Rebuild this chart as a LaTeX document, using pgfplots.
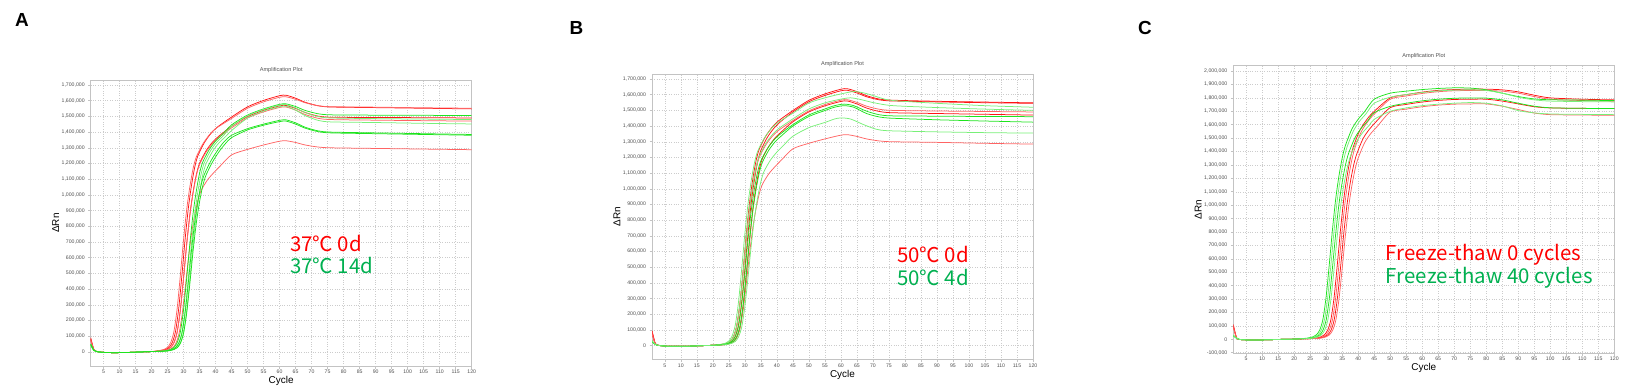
\documentclass[border=0pt]{standalone}
\usepackage{pgfplots}
\pgfplotsset{compat=1.18}
\usepackage{fontspec}
\setmainfont{Liberation Sans}
\newfontfamily\cjk{Noto Sans CJK SC}
\definecolor{rA}{RGB}{255,20,20}
\definecolor{rB}{RGB}{255,100,100}
\definecolor{gA}{RGB}{30,228,30}
\definecolor{gB}{RGB}{120,240,120}
\definecolor{legR}{RGB}{255,0,0}
\definecolor{legG}{RGB}{0,176,80}
\definecolor{axgray}{RGB}{195,195,195}
\definecolor{txtgray}{RGB}{80,80,80}
\pgfplotsset{
  qpcr/.style={
    scale only axis, width=381bp, height=286bp,
    xmin=1, xmax=120,
    xtick={5,10,...,120},
    grid=major,
    major grid style={dotted, gray!40, line width=0.45bp},
    axis line style={axgray, line width=0.8bp},
    tick style={axgray, line width=0.5bp},
    tick align=outside, tickpos=left, major tick length=2.5bp,
    ticklabel style={font=\fontsize{5.2}{6}\selectfont, text=txtgray},
    xticklabel style={yshift=2bp},
    /pgf/number format/assume math mode=true,
    xlabel={Cycle}, ylabel={ΔRn},
    label style={font=\fontsize{6.3}{7}\selectfont, text=txtgray},
    every axis x label/.style={at={(axis description cs:0.5,-0.052)},anchor=center},
    every axis y label/.style={at={(axis description cs:-0.092,0.5)},rotate=90,anchor=center},
    title={Amplification Plot},
    title style={font=\fontsize{5.6}{6.5}\selectfont, text=txtgray, at={(axis description cs:0.5,1)}, anchor=base, inner sep=0pt, yshift=2.5bp},
    every axis plot/.append style={line width=0.75bp, no marks, smooth, tension=0.45},
  },
  abticks/.style={
    ymin=-90, ymax=1732,
    ytick={0,100,...,1700},
    yticklabels={0,{100,000},{200,000},{300,000},{400,000},{500,000},{600,000},{700,000},{800,000},{900,000},{1,000,000},{1,100,000},{1,200,000},{1,300,000},{1,400,000},{1,500,000},{1,600,000},{1,700,000}},
  },
}
\begin{document}
\begin{tikzpicture}
\useasboundingbox (0,0) rectangle (1633bp,391bp);
% ---------------- Panel A ----------------
\begin{axis}[qpcr, abticks, at={(90.7bp,25bp)}, anchor=south west]
\addplot[rA] coordinates {(1,90)(2,15)(3,2)(5,-3)(8,-5)(12,-4)(16,-1)(20,2)(22.5,7)(24.5,16)(25.5,29)(26.5,60)(27.5,131)(28.5,278)(29.5,491)(30.5,719)(31.5,916)(32.5,1063)(33.5,1177)(34.5,1251)(36.5,1333)(38.5,1390)(40.5,1431)(45,1496)(50,1561)(55,1602)(60,1632)(62,1635)(65,1616)(68,1590)(72,1568)(76,1560)(90,1556)(105,1552)(120,1548)};
\addplot[rB] coordinates {(1,85)(2,14)(3,2)(5,-3)(8,-5)(12,-4)(16,-1)(20,2)(22,7)(24,16)(25,29)(26,60)(27,130)(28,276)(29,488)(30,715)(31,910)(32,1056)(33,1170)(34,1243)(36,1324)(38,1381)(40,1422)(45,1487)(50,1552)(55,1593)(60,1622)(62,1625)(65,1609)(68,1587)(72,1568)(76,1562)(90,1559)(105,1555)(120,1552)};
\addplot[rA] coordinates {(1,80)(2,13)(3,2)(5,-3)(8,-5)(12,-4)(16,-1)(20,2)(23,6)(25,16)(26,28)(27,58)(28,126)(29,267)(30,471)(31,691)(32,879)(33,1021)(34,1130)(35,1201)(37,1280)(39,1335)(41,1374)(45,1437)(50,1499)(55,1539)(60,1567)(62,1570)(65,1551)(68,1525)(72,1502)(76,1495)(90,1493)(105,1492)(120,1490)};
\addplot[rB] coordinates {(1,75)(2,12)(3,2)(5,-3)(8,-5)(12,-4)(16,-1)(20,2)(23,6)(25,16)(26,28)(27,58)(28,125)(29,265)(30,468)(31,686)(32,874)(33,1014)(34,1123)(35,1193)(37,1271)(39,1326)(41,1365)(45,1427)(50,1490)(55,1529)(60,1557)(62,1560)(65,1540)(68,1512)(72,1488)(76,1480)(90,1476)(105,1473)(120,1470)};
\addplot[rB] coordinates {(1,70)(2,12)(3,2)(5,-3)(8,-5)(12,-4)(16,-1)(20,2)(23.5,5)(25.5,13)(26.5,24)(27.5,50)(28.5,108)(29.5,229)(30.5,404)(31.5,592)(32.5,753)(33.5,874)(34.5,968)(35.5,1029)(37.5,1096)(39.5,1143)(41.5,1185)(45,1255)(50,1290)(55,1318)(60,1342)(62,1345)(65,1334)(68,1318)(72,1305)(76,1300)(90,1296)(105,1292)(120,1288)};
\addplot[gA] coordinates {(1,50)(2,10)(3,1)(5,-3)(8,-5)(12,-4)(16,-1)(20,2)(24,6)(26,16)(27,28)(28,58)(29,126)(30,269)(31,474)(32,695)(33,885)(34,1027)(35,1138)(36,1209)(38,1288)(40,1343)(42,1383)(45,1446)(50,1509)(55,1548)(60,1577)(62,1580)(65,1563)(68,1538)(72,1517)(76,1510)(90,1508)(105,1507)(120,1505)};
\addplot[gB] coordinates {(1,45)(2,9)(3,1)(5,-3)(8,-5)(12,-4)(16,-1)(20,2)(24.5,6)(26.5,16)(27.5,28)(28.5,58)(29.5,126)(30.5,268)(31.5,473)(32.5,693)(33.5,882)(34.5,1024)(35.5,1134)(36.5,1205)(38.5,1284)(40.5,1339)(42.5,1378)(45,1436)(50,1504)(55,1544)(60,1572)(62,1575)(65,1554)(68,1524)(72,1499)(76,1490)(90,1486)(105,1483)(120,1480)};
\addplot[gB] coordinates {(1,40)(2,8)(3,1)(5,-3)(8,-5)(12,-4)(16,-1)(20,2)(25,6)(27,16)(28,28)(29,58)(30,125)(31,266)(32,470)(33,689)(34,876)(35,1017)(36,1127)(37,1197)(39,1275)(41,1330)(43,1369)(45,1410)(50,1490)(55,1534)(60,1562)(62,1565)(65,1540)(68,1505)(72,1475)(76,1465)(90,1461)(105,1456)(120,1452)};
\addplot[gA] coordinates {(1,50)(2,10)(3,1)(5,-3)(8,-5)(12,-4)(16,-1)(20,2)(24.5,6)(26.5,15)(27.5,27)(28.5,55)(29.5,118)(30.5,251)(31.5,443)(32.5,650)(33.5,828)(34.5,961)(35.5,1064)(36.5,1131)(38.5,1215)(40.5,1280)(42.5,1335)(45,1380)(50,1422)(55,1451)(60,1475)(62,1478)(65,1459)(68,1431)(72,1408)(76,1400)(90,1395)(105,1390)(120,1385)};
\addplot[gA] coordinates {(1,45)(2,9)(3,1)(5,-3)(8,-5)(12,-4)(16,-1)(20,2)(25,6)(27,15)(28,26)(29,54)(30,118)(31,250)(32,441)(33,647)(34,823)(35,956)(36,1058)(37,1125)(39,1208)(41,1273)(43,1325)(45,1365)(50,1414)(55,1444)(60,1467)(62,1470)(65,1451)(68,1425)(72,1403)(76,1395)(90,1390)(105,1385)(120,1380)};
\end{axis}
% ---------------- Panel B ----------------
\begin{axis}[qpcr, abticks, height=285.7bp, at={(652bp,31.3bp)}, anchor=south west]
\addplot[rA] coordinates {(1,95)(2,15)(3,2)(5,-3)(8,-5)(12,-4)(16,-1)(20,2)(22.5,7)(24.5,16)(25.5,29)(26.5,61)(27.5,131)(28.5,278)(29.5,491)(30.5,721)(31.5,917)(32.5,1065)(33.5,1179)(34.5,1253)(36.5,1335)(38.5,1392)(40.5,1433)(45,1499)(50,1564)(55,1605)(60,1635)(62,1638)(65,1620)(68,1594)(72,1572)(76,1565)(90,1558)(105,1553)(120,1548)};
\addplot[rA] coordinates {(1,90)(2,14)(3,2)(5,-3)(8,-5)(12,-4)(16,-1)(20,2)(23,7)(25,16)(26,29)(27,60)(28,130)(29,277)(30,488)(31,716)(32,912)(33,1058)(34,1172)(35,1245)(37,1327)(39,1384)(41,1425)(45,1490)(50,1555)(55,1595)(60,1625)(62,1628)(65,1611)(68,1587)(72,1567)(76,1560)(90,1554)(105,1549)(120,1545)};
\addplot[rB] coordinates {(1,85)(2,13)(3,2)(5,-3)(8,-5)(12,-4)(16,-1)(20,2)(22.5,6)(24.5,16)(25.5,28)(26.5,58)(27.5,125)(28.5,267)(29.5,470)(30.5,690)(31.5,878)(32.5,1019)(33.5,1129)(34.5,1200)(36.5,1278)(38.5,1333)(40.5,1372)(45,1435)(50,1497)(55,1537)(60,1565)(62,1568)(65,1551)(68,1527)(72,1507)(76,1500)(90,1496)(105,1493)(120,1490)};
\addplot[rA] coordinates {(1,80)(2,12)(3,2)(5,-3)(8,-5)(12,-4)(16,-1)(20,2)(23.5,6)(25.5,16)(26.5,28)(27.5,58)(28.5,125)(29.5,265)(30.5,468)(31.5,686)(32.5,874)(33.5,1014)(34.5,1123)(35.5,1193)(37.5,1271)(39.5,1326)(41.5,1365)(45,1427)(50,1490)(55,1529)(60,1557)(62,1560)(65,1541)(68,1515)(72,1493)(76,1485)(90,1480)(105,1475)(120,1470)};
\addplot[rB] coordinates {(1,75)(2,12)(3,2)(5,-3)(8,-5)(12,-4)(16,-1)(20,2)(23.5,5)(25.5,13)(26.5,24)(27.5,50)(28.5,108)(29.5,229)(30.5,404)(31.5,592)(32.5,753)(33.5,874)(34.5,968)(35.5,1029)(37.5,1096)(39.5,1143)(41.5,1185)(45,1255)(50,1290)(55,1318)(60,1342)(62,1345)(65,1334)(68,1318)(72,1305)(76,1300)(90,1296)(105,1290)(120,1285)};
\addplot[gB] coordinates {(1,30)(2,8)(3,1)(5,-3)(8,-5)(12,-4)(16,-1)(20,2)(22,6)(24,16)(25,29)(26,60)(27,130)(28,275)(29,486)(30,713)(31,907)(32,1053)(33,1166)(34,1239)(36,1320)(38,1377)(40,1418)(45,1482)(50,1547)(55,1580)(60,1605)(64,1620)(67,1612)(70,1595)(74,1570)(78,1560)(90,1545)(105,1530)(120,1520)};
\addplot[gB] coordinates {(1,28)(2,8)(3,1)(5,-3)(8,-5)(12,-4)(16,-1)(20,2)(22.5,6)(24.5,16)(25.5,28)(26.5,58)(27.5,126)(28.5,269)(29.5,474)(30.5,695)(31.5,885)(32.5,1027)(33.5,1138)(34.5,1209)(36.5,1288)(38.5,1343)(40.5,1383)(45,1446)(50,1509)(55,1548)(60,1572)(63,1580)(66,1570)(70,1550)(74,1535)(78,1528)(90,1518)(105,1508)(120,1500)};
\addplot[gA] coordinates {(1,30)(2,8)(3,1)(5,-3)(8,-5)(12,-4)(16,-1)(20,2)(23,6)(25,15)(26,28)(27,57)(28,123)(29,262)(30,462)(31,678)(32,862)(33,1001)(34,1109)(35,1178)(37,1255)(39,1309)(41,1348)(45,1409)(50,1471)(55,1509)(58,1530)(61,1540)(64,1530)(68,1495)(72,1472)(76,1465)(90,1463)(105,1461)(120,1460)};
\addplot[gA] coordinates {(1,25)(2,7)(3,1)(5,-3)(8,-5)(12,-4)(16,-1)(20,2)(23.5,6)(25.5,15)(26.5,28)(27.5,57)(28.5,122)(29.5,260)(30.5,459)(31.5,673)(32.5,857)(33.5,995)(34.5,1102)(35.5,1170)(37.5,1247)(39.5,1301)(41.5,1339)(45,1400)(50,1461)(55,1499)(58,1520)(61,1530)(64,1520)(68,1480)(72,1458)(76,1450)(90,1440)(105,1432)(120,1425)};
\addplot[gB] coordinates {(1,30)(2,8)(3,1)(5,-3)(8,-5)(12,-4)(16,-1)(20,2)(24,6)(26,15)(27,26)(28,54)(29,116)(30,247)(31,436)(32,639)(33,813)(34,944)(35,1045)(36,1111)(38,1183)(40,1234)(42,1275)(45,1335)(50,1390)(55,1423)(58,1445)(60,1452)(63,1445)(67,1410)(71,1380)(75,1370)(90,1363)(105,1358)(120,1355)};
\end{axis}
% ---------------- Panel C ----------------
\begin{axis}[qpcr, height=287.6bp, at={(1233.3bp,37.7bp)}, anchor=south west,
  ymin=-105, ymax=2040, ytick={-100,0,...,2000},
  yticklabels={{-100,000},0,{100,000},{200,000},{300,000},{400,000},{500,000},{600,000},{700,000},{800,000},{900,000},{1,000,000},{1,100,000},{1,200,000},{1,300,000},{1,400,000},{1,500,000},{1,600,000},{1,700,000},{1,800,000},{1,900,000},{2,000,000}}]
\addplot[rA] coordinates {(1,110)(2,12)(3,-2)(5,-5)(8,-6)(12,-4)(16,-1)(20,1)(23,3)(26.5,7)(28.5,19)(29.5,34)(30.5,69)(31.5,149)(32.5,317)(33.5,560)(34.5,821)(35.5,1044)(36.5,1212)(37.5,1343)(38.5,1436)(40.5,1557)(42.5,1632)(44.5,1688)(50,1800)(55,1824)(60,1843)(65,1856)(70,1862)(75,1865)(80,1865)(85,1860)(90,1845)(95,1820)(100,1800)(110,1790)(120,1785)};
\addplot[rB] coordinates {(1,100)(2,11)(3,-2)(5,-5)(8,-6)(12,-4)(16,-1)(20,1)(23,3)(27,7)(29,19)(30,33)(31,69)(32,148)(33,315)(34,557)(35,816)(36,1039)(37,1206)(38,1336)(39,1428)(41,1549)(43,1623)(45,1679)(50,1790)(55,1814)(60,1833)(65,1846)(70,1853)(75,1855)(80,1855)(85,1850)(90,1835)(95,1810)(100,1790)(110,1780)(120,1775)};
\addplot[rA] coordinates {(1,95)(2,10)(3,-2)(5,-5)(8,-6)(12,-4)(16,-1)(20,1)(23,3)(27.5,7)(29.5,18)(30.5,32)(31.5,66)(32.5,143)(33.5,304)(34.5,537)(35.5,788)(36.5,1002)(37.5,1164)(38.5,1289)(39.5,1378)(41.5,1495)(43.5,1566)(45.5,1620)(50,1727)(55,1751)(60,1769)(65,1781)(70,1788)(75,1790)(80,1790)(85,1776)(90,1755)(95,1734)(100,1725)(110,1722)(120,1720)};
\addplot[rB] coordinates {(1,90)(2,10)(3,-2)(5,-5)(8,-6)(12,-4)(16,-1)(20,1)(23,3)(28,7)(30,18)(31,32)(32,65)(33,140)(34,298)(35,527)(36,772)(37,983)(38,1141)(39,1264)(40,1351)(42,1465)(44,1536)(46,1588)(50,1694)(55,1716)(60,1734)(65,1746)(70,1753)(75,1755)(80,1755)(85,1738)(90,1713)(95,1687)(100,1675)(110,1672)(120,1670)};
\addplot[gA] coordinates {(1,30)(2,8)(3,-2)(5,-5)(8,-6)(12,-4)(16,-1)(20,1)(24,8)(26,19)(27,34)(28,69)(29,150)(30,319)(31,563)(32,825)(33,1050)(34,1219)(35,1350)(36,1444)(38,1566)(40,1641)(42,1697)(45,1790)(50,1835)(55,1850)(60,1862)(65,1870)(70,1875)(75,1873)(80,1860)(85,1835)(90,1810)(95,1792)(100,1786)(110,1783)(120,1780)};
\addplot[gB] coordinates {(1,28)(2,8)(3,-2)(5,-5)(8,-6)(12,-4)(16,-1)(20,1)(24.5,7)(26.5,19)(27.5,33)(28.5,69)(29.5,149)(30.5,316)(31.5,558)(32.5,818)(33.5,1042)(34.5,1209)(35.5,1339)(36.5,1432)(38.5,1553)(40.5,1628)(42.5,1683)(45,1760)(50,1805)(55,1825)(60,1840)(65,1852)(70,1858)(75,1860)(80,1855)(85,1835)(90,1805)(95,1785)(100,1776)(110,1772)(120,1770)};
\addplot[gA] coordinates {(1,25)(2,7)(3,-2)(5,-5)(8,-6)(12,-4)(16,-1)(20,1)(25,7)(27,18)(28,32)(29,67)(30,144)(31,306)(32,540)(33,792)(34,1008)(35,1170)(36,1296)(37,1386)(39,1503)(41,1575)(43,1629)(45,1690)(50,1737)(55,1760)(60,1778)(65,1790)(70,1797)(75,1800)(80,1798)(85,1785)(90,1760)(95,1738)(100,1726)(110,1722)(120,1720)};
\addplot[gB] coordinates {(1,30)(2,8)(3,-2)(5,-5)(8,-6)(12,-4)(16,-1)(20,1)(25.5,7)(27.5,18)(28.5,32)(29.5,65)(30.5,141)(31.5,300)(32.5,530)(33.5,777)(34.5,988)(35.5,1147)(36.5,1271)(37.5,1359)(39.5,1474)(41.5,1544)(43.5,1597)(45,1640)(50,1700)(55,1725)(60,1742)(65,1753)(70,1760)(75,1765)(80,1760)(85,1740)(90,1705)(95,1688)(100,1680)(110,1677)(120,1675)};
\end{axis}
% ---------------- panel letters and legends ----------------
\node[anchor=base west, inner sep=0pt, font=\bfseries\fontsize{19}{22}\selectfont] at (15bp,364bp) {A};
\node[anchor=base west, inner sep=0pt, font=\bfseries\fontsize{19}{22}\selectfont] at (569.5bp,356bp) {B};
\node[anchor=base west, inner sep=0pt, font=\bfseries\fontsize{19}{22}\selectfont] at (1138bp,356.5bp) {C};
\node[anchor=base west, inner sep=0pt, text=legR, font=\cjk\fontsize{20.5}{24}\selectfont] at (290bp,139bp) {37℃ 0d};
\node[anchor=base west, inner sep=0pt, text=legG, font=\cjk\fontsize{20.5}{24}\selectfont] at (290bp,117bp) {37℃ 14d};
\node[anchor=base west, inner sep=0pt, text=legR, font=\cjk\fontsize{20.5}{24}\selectfont] at (897bp,128bp) {50℃ 0d};
\node[anchor=base west, inner sep=0pt, text=legG, font=\cjk\fontsize{20.5}{24}\selectfont] at (897bp,105bp) {50℃ 4d};
\node[anchor=base west, inner sep=0pt, text=legR, font=\cjk\fontsize{20.5}{24}\selectfont] at (1385.7bp,130bp) {Freeze-thaw 0 cycles};
\node[anchor=base west, inner sep=0pt, text=legG, font=\cjk\fontsize{20.5}{24}\selectfont] at (1385.7bp,107bp) {Freeze-thaw 40 cycles};
\end{tikzpicture}
\end{document}
